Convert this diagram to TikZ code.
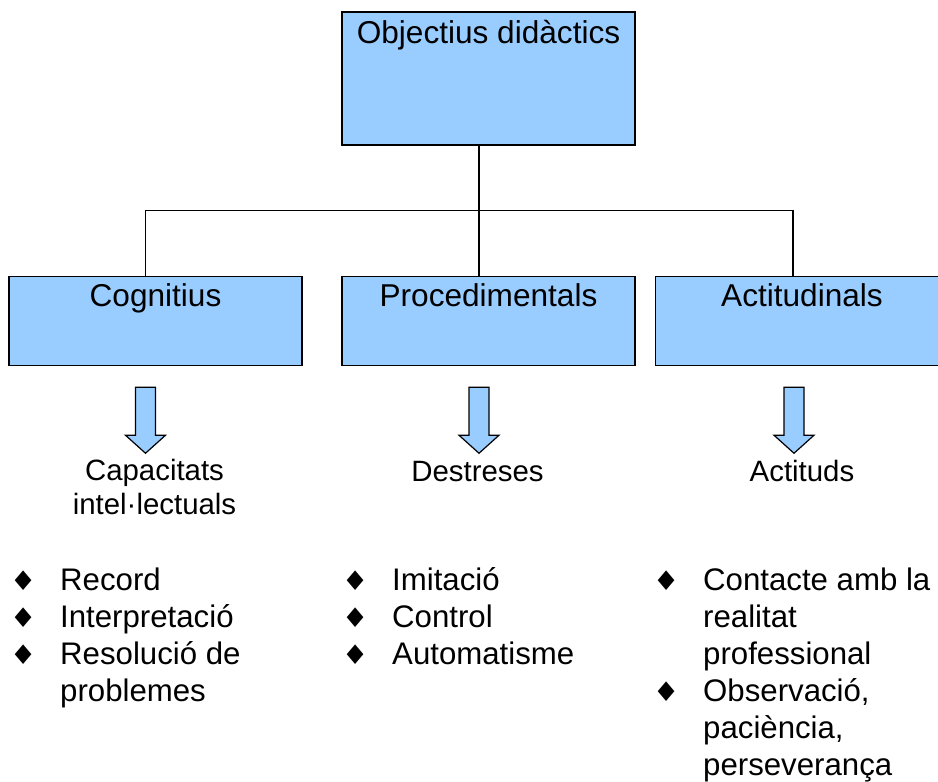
\documentclass[tikz,border=0pt]{standalone}
\usepackage{fontspec}
\setmainfont{Liberation Sans}
\newfontfamily\bulfont{DejaVu Sans}
\usetikzlibrary{positioning}
\definecolor{boxblue}{HTML}{99CCFF}
\tikzset{dbox/.style={draw=black, line width=1.5pt, fill=boxblue, inner sep=0pt, minimum width=293pt, font=\fontsize{31.6}{38}\selectfont}}
\tikzset{dtop/.style={dbox, text height=31pt, text depth=102pt}}
\tikzset{dsub/.style={dbox, text height=30pt, text depth=59pt}}
\tikzset{conn/.style={draw, line width=1.2pt}}
\tikzset{darr/.style={draw=black, line width=1.2pt, fill=boxblue, line join=miter}}
\tikzset{dlbl/.style={inner sep=0pt, align=center, font=\fontsize{29.4}{34}\selectfont}}
\tikzset{dlist/.style={inner sep=0pt, align=left, anchor=base west, font=\fontsize{31.2}{37}\selectfont}}
\tikzset{blockdown/.pic={\path[darr] (-10pt,0pt) -- (-10pt,-48pt) -- (-20pt,-48pt) -- (0pt,-66pt) -- (20pt,-48pt) -- (10pt,-48pt) -- (10pt,0pt) -- cycle;}}
\newcommand{\dbul}{\makebox[37pt][l]{\makebox[0pt][c]{\scalebox{1.1}[1]{\bulfont\fontsize{27}{27}\selectfont ♦}}}}
\newcommand{\dcont}{\makebox[37pt]{}}

\begin{document}
\begin{tikzpicture}[x=1pt,y=-1pt]
\useasboundingbox (0,0) rectangle (938,782);
% boxes
\node[dtop, anchor=base] (Obj) at (488.5,43) {Objectius didàctics};
\node[dsub, below=130pt of Obj] (Proc) {Procedimentals};
\node[dsub, left=38.5pt of Proc] (Cog) {Cognitius};
\node[dsub, right=19pt of Proc] (Act) {Actitudinals};
% tree lines
\coordinate (hub) at ([xshift=-9.5pt,yshift=-65pt]Obj.south);
\draw[conn] ([xshift=-9.5pt]Obj.south) -- ([xshift=-9.5pt]Proc.north);
\draw[conn] ([xshift=-10pt]Cog.north) |- (hub) -| ([xshift=-9pt]Act.north);
% block arrows
\pic at ([xshift=-10pt,yshift=-21pt]Cog.south) {blockdown};
\pic at ([xshift=-9.5pt,yshift=-21pt]Proc.south) {blockdown};
\pic at ([xshift=-8pt,yshift=-21pt]Act.south) {blockdown};
% labels (base = last line)
\node[dlbl, anchor=base] (capLbl) at ([xshift=-1pt,yshift=-148pt]Cog.south) {Capacitats\\intel·lectuals};
\node[dlbl, anchor=base] (desLbl) at ([xshift=-11pt,yshift=-115pt]Proc.south) {Destreses};
\node[dlbl, anchor=base] (actLbl) at ([yshift=-115pt]Act.south) {Actituds};
% lists, first baseline at 590
\node[dlist] (cogList) at (23,701) {\dbul Record\\\dbul Interpretació\\\dbul Resolució de\\\dcont problemes};
\node[dlist] (procList) at (355,664) {\dbul Imitació\\\dbul Control\\\dbul Automatisme};
\node[dlist] (actList) at (666,775) {\dbul Contacte amb la\\\dcont realitat\\\dcont professional\\\dbul Observació,\\\dcont paciència,\\\dcont perseverança};
\end{tikzpicture}
\end{document}
